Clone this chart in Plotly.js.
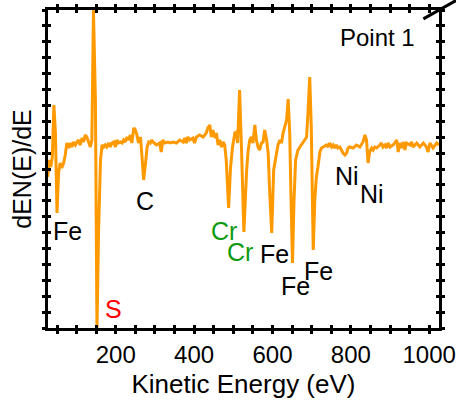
<!DOCTYPE html>
<html>
<head>
<meta charset="utf-8">
<script src="https://cdn.plot.ly/plotly-3.0.1.min.js"></script>
<style>html,body{margin:0;padding:0;background:#fff;}#chart{width:456px;height:408px;}</style>
</head>
<body>
<div id="chart"></div>
<script>
// Kinetic energy (eV)
const energy = [26,31,34,38,42,46,50,54,58,62,67,71,75,80,84,88,92,97,101,105,109,114,118,122,126,131,135,139,143,148,152,156,161,165,169,173,177,182,186,190,195,199,203,207,212,216,220,224,229,233,237,241,246,250,254,258,263,267,271,276,280,284,288,292,295,304,312,316,320,325,333,338,346,355,363,372,376,380,384,389,397,401,406,414,423,431,435,440,444,448,453,457,461,465,470,474,478,482,488,493,498,504,508,511,516,521,527,534,538,542,546,550,555,559,563,567,572,576,580,585,589,593,598,603,608,614,619,623,627,631,636,640,644,647,651,655,659,665,670,674,678,682,687,691,695,699,702,704,708,712,716,721,725,729,738,742,746,751,755,759,763,767,772,776,780,785,789,793,797,806,814,823,831,836,840,844,848,853,857,861,866,874,878,882,887,891,895,900,908,917,921,925,929,934,938,942,951,955,959,968,976,985,993,997,1002,1010,1019,1025];
// dEN(E)/dE (arbitrary units)
const signal = [-32,-15,-22,-12,40,12,-68,-28,-18,-23,-18,-10,2,-3,2,-2,3,0,3,5,0,7,3,10,8,2,-2,5,135,45,-185,-88,-15,0,-2,0,-2,2,-2,2,3,-2,5,2,3,2,5,3,8,5,10,2,17,15,10,2,8,-12,-35,-18,-2,3,2,5,3,0,2,-7,5,2,3,2,3,2,5,3,7,2,8,5,7,2,8,10,8,12,17,20,8,15,7,12,0,5,-2,3,0,-15,-63,-22,-2,12,13,2,55,-5,-87,-25,-5,5,8,2,20,5,-2,-5,2,3,15,5,-8,-48,-88,-25,-13,0,5,2,12,17,25,46,12,-48,-118,-55,-15,-5,-2,0,2,5,8,35,68,18,-55,-105,-55,-32,-22,-7,-3,-2,0,-2,2,-2,0,-3,0,-3,-2,-5,-8,-10,-8,-3,-2,-3,0,-2,3,10,5,-18,-7,-3,-5,-2,-3,0,2,-2,0,-3,2,-2,0,5,-7,2,-3,3,-5,2,0,3,-2,2,-2,2,-2,-7,2,-3,2,0];

const labelText = ['Fe','C','S','Cr','Cr','Fe','Fe','Fe','Ni','Ni'];
const labelE    = [77,274,195,475,516,604,659,717,790,855];
const labelY    = [-86,-56,-164,-86,-107,-109,-141,-126,-31,-49];
const labelColor= ['#000','#000','#ff0000','#109a10','#109a10','#000','#000','#000','#000','#000'];

const xr = [27, 1025];
const yr = [-183, 135];
const FONT = 'Liberation Sans, Arial, sans-serif';

const traces = [
  {x: energy, y: signal, type: 'scatter', mode: 'lines',
   line: {color: '#ff9900', width: 3}, hoverinfo: 'skip', showlegend: false},
  {x: [], y: [], xaxis: 'x2', yaxis: 'y2', type: 'scatter', mode: 'lines', showlegend: false}
];

const annotations = labelText.map((t, i) => ({
  x: labelE[i], y: labelY[i], xref: 'x', yref: 'y', text: t, showarrow: false,
  font: {family: FONT, size: 25, color: labelColor[i]}, xanchor: 'center', yanchor: 'middle'
}));
annotations.push({x: 868, y: 108, xref: 'x', yref: 'y', text: 'Point 1', showarrow: false,
  font: {family: FONT, size: 24, color: '#000'}, xanchor: 'center', yanchor: 'middle'});

const tickCommon = {ticklen: 3, tickwidth: 3, tickcolor: '#000'};

const layout = {
  width: 456, height: 408,
  margin: {l: 48, r: 17, t: 10, b: 80},
  paper_bgcolor: '#fff', plot_bgcolor: '#fff',
  font: {family: FONT, color: '#000'},
  showlegend: false,
  xaxis: Object.assign({
    range: xr, showgrid: false, zeroline: false,
    showline: true, linewidth: 3, linecolor: '#000', mirror: 'allticks',
    ticks: 'outside', tick0: 0, dtick: 200,
    minor: {dtick: 50, tick0: 0, ticks: 'outside', ticklen: 3, tickwidth: 3, tickcolor: '#000', showgrid: false},
    tickfont: {family: FONT, size: 24, color: '#000'},
    title: {text: 'Kinetic Energy (eV)', font: {family: FONT, size: 26, color: '#000'}, standoff: 9}
  }, tickCommon),
  yaxis: Object.assign({
    range: yr, showgrid: false, zeroline: false,
    showline: true, linewidth: 3, linecolor: '#000', mirror: 'allticks',
    ticks: 'outside', tick0: 135, dtick: 15.9, showticklabels: false,
    title: {text: 'dEN(E)/dE', font: {family: FONT, size: 25, color: '#000'}, standoff: 4}
  }, tickCommon),
  xaxis2: Object.assign({
    overlaying: 'x', range: xr, showgrid: false, zeroline: false, showline: false,
    mirror: 'allticks', ticks: 'inside', tick0: 0, dtick: 200, showticklabels: false,
    minor: {dtick: 50, tick0: 0, ticks: 'inside', ticklen: 3, tickwidth: 3, tickcolor: '#000', showgrid: false}
  }, tickCommon),
  yaxis2: Object.assign({
    overlaying: 'y', range: yr, showgrid: false, zeroline: false, showline: false,
    mirror: 'allticks', ticks: 'inside', tick0: 135, dtick: 15.9, showticklabels: false
  }, tickCommon),
  annotations: annotations,
  shapes: [
    {type: 'line', xref: 'paper', yref: 'paper', x0: 0.96, y0: 0.972, x1: 1.045, y1: 1.031,
     line: {color: '#000', width: 3}}
  ]
};

Plotly.newPlot('chart', traces, layout, {staticPlot: true, displayModeBar: false});
</script>
</body>
</html>
